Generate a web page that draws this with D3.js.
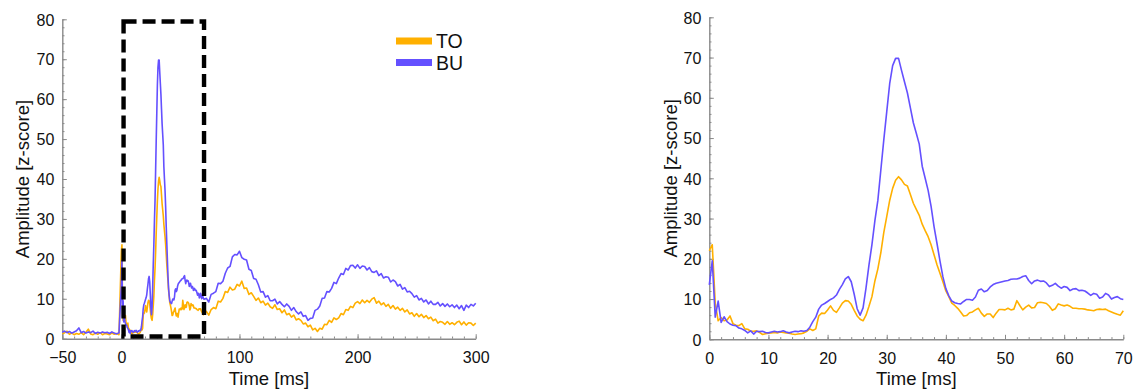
<!DOCTYPE html>
<html>
<head>
<meta charset="utf-8">
<script src="https://cdn.jsdelivr.net/npm/d3@7"></script>
<style>
  body { margin: 0; background: #fff; }
  svg text { font-family: "Liberation Sans", Arial, Helvetica, sans-serif; fill: #111; }
</style>
</head>
<body>
<svg id="chart" width="1137" height="390"></svg>
<script>
// ---- data ---------------------------------------------------------------
const seriesNames = ["TO", "BU"];
const seriesColors = ["#ffb000", "#6450ff"];

// Pre-stimulus baseline: -50 ms to -2 ms in 2 ms steps
const preStart = -50, preStep = 2;
const preTO = [1.2, 1.5, 1.9, 1.1, 1.4, 1.0, 1.3, 1.1, 1.5, 1.0, 1.6, 2.4, 1.2,
               1.0, 1.4, 1.1, 1.5, 1.0, 1.3, 1.2, 1.0, 1.4, 1.1, 1.3, 1.0];
const preBU = [1.6, 1.9, 1.5, 1.8, 1.4, 1.7, 2.0, 2.7, 1.5, 1.8, 1.4, 1.7, 1.5,
               1.9, 1.3, 1.6, 1.4, 1.7, 1.5, 1.6, 1.3, 1.7, 1.4, 1.2, 1.5];

// Early response: 0 ms to 70 ms in 0.5 ms steps
const earlyStart = 0, earlyStep = 0.5;
const earlyTO = [
  22.0, 23.5, 9.0, 4.6, 5.4, 4.6, 4.8, 5.8, 3.9, 3.5,
  3.4, 3.9, 2.6, 2.5, 2.0, 2.0, 2.1, 1.7, 1.2, 1.4,
  1.5, 1.6, 1.7, 1.6, 1.8, 1.7, 1.6, 1.5, 1.3, 1.2,
  1.3, 1.4, 1.6, 2.0, 2.6, 2.2, 2.6, 5.8, 6.5, 6.4,
  7.3, 8.3, 7.2, 6.7, 7.8, 9.0, 9.6, 9.5, 8.7, 7.2,
  5.8, 5.0, 4.6, 6.0, 8.2, 10.6, 14.5, 17.5, 21.5, 26.5,
  30.5, 34.5, 37.5, 39.5, 40.4, 39.6, 38.5, 38.1, 36.0, 33.8,
  32.3, 30.8, 28.6, 27.0, 25.5, 23.5, 21.0, 18.5, 16.4, 14.3,
  12.0, 10.6, 9.0, 8.4, 7.7, 6.8, 5.8, 5.9, 6.6, 6.8,
  7.3, 7.7, 6.5, 5.7, 6.3, 6.3, 5.4, 6.5, 7.4, 7.4,
  7.3, 7.7, 7.3, 7.5, 9.6, 8.4, 7.3, 8.0, 8.5, 7.8,
  7.9, 9.1, 9.2, 9.1, 8.9, 8.2, 7.2, 7.6, 8.8, 8.5,
  8.3, 8.5, 8.2, 7.7, 7.7, 7.6, 7.6, 7.5, 7.3, 7.2,
  7.1, 7.4, 7.5, 7.4, 7.5, 7.1, 6.8, 6.5, 6.2, 6.0,
  7.1
];
const earlyBU = [
  13.5, 19.5, 5.5, 9.5, 4.2, 5.6, 4.4, 3.8, 3.5, 3.4,
  2.8, 2.6, 2.2, 1.6, 2.1, 1.3, 2.0, 1.9, 2.0, 1.7,
  1.6, 1.8, 2.0, 1.8, 1.9, 2.1, 1.8, 1.6, 1.8, 2.0,
  1.9, 2.1, 2.0, 2.2, 3.0, 4.4, 5.5, 7.5, 8.5, 8.9,
  9.4, 9.9, 10.3, 11.0, 12.4, 13.6, 15.0, 15.6, 14.3, 11.2,
  7.6, 6.0, 7.8, 12.8, 18.5, 23.5, 29.5, 34.5, 42.0, 49.5,
  56.5, 63.5, 68.0, 69.8, 69.8, 66.8, 64.0, 61.2, 57.5, 53.8,
  51.2, 48.5, 43.0, 40.0, 37.0, 33.0, 28.0, 23.8, 19.5, 15.5,
  12.6, 10.8, 9.5, 9.1, 8.9, 8.8, 9.4, 9.9, 9.9, 9.7,
  10.5, 12.2, 12.5, 11.8, 12.1, 13.0, 13.6, 13.9, 14.1, 14.3,
  14.5, 14.6, 14.9, 15.0, 15.0, 15.2, 15.6, 15.8, 14.6, 13.8,
  14.5, 14.7, 14.4, 14.5, 14.0, 13.1, 13.4, 13.9, 13.2, 12.7,
  13.1, 12.9, 12.1, 12.5, 12.6, 12.1, 12.2, 12.0, 11.5, 10.9,
  11.4, 11.2, 10.2, 10.5, 11.4, 11.0, 10.0, 10.4, 10.6, 10.1,
  9.9
];

// Late response: 72 ms to 300 ms in 2 ms steps
const lateStart = 72, lateStep = 2;
const lateTO = [
  6.8, 5.9, 7.3, 7.8, 7.5, 9.4, 9.2, 10.1, 11.8, 11.6,
  12.9, 12.2, 12.4, 13.6, 13.2, 14.4, 12.6, 12.7, 11.1, 11.5,
  10.6, 9.6, 10.2, 9.0, 9.4, 8.4, 8.9, 8.0, 7.6, 8.5,
  7.3, 7.5, 6.5, 7.2, 6.0, 6.3, 5.4, 5.9, 4.7, 5.0,
  4.6, 3.7, 3.9, 3.0, 3.4, 2.2, 2.6, 1.8, 2.6, 2.4,
  3.6, 3.5, 4.6, 4.1, 5.2, 4.8, 5.2, 6.3, 6.0, 7.3,
  7.1, 8.1, 7.8, 8.9, 9.3, 8.8, 9.7, 9.0, 9.6, 9.1,
  9.9, 10.3, 8.9, 9.4, 8.5, 9.0, 8.1, 8.6, 7.6, 8.3,
  7.4, 7.9, 7.1, 7.6, 6.7, 7.2, 6.2, 6.5, 5.6, 6.3,
  5.5, 6.1, 5.3, 5.8, 5.0, 5.4, 4.5, 4.9, 3.9, 4.3,
  4.1, 3.6, 4.3, 3.6, 4.0, 3.5, 4.1, 4.4, 3.5, 4.2,
  3.4, 4.0, 3.9, 3.3, 3.9
];
const lateBU = [
  10.1, 9.2, 11.1, 11.4, 11.8, 13.9, 13.8, 14.4, 16.4, 17.7,
  18.1, 20.5, 21.1, 21.0, 21.9, 20.3, 19.9, 19.7, 17.4, 17.1,
  15.1, 14.9, 13.5, 11.7, 11.8, 10.4, 10.8, 9.5, 9.5, 9.9,
  8.7, 9.3, 8.6, 8.0, 8.7, 8.1, 7.1, 7.8, 6.8, 6.2,
  6.7, 5.6, 5.8, 4.6, 5.1, 5.2, 7.1, 7.4, 8.2, 10.1,
  10.2, 11.8, 11.7, 12.6, 14.1, 13.8, 15.2, 16.3, 16.1, 17.6,
  17.2, 18.3, 18.4, 17.7, 18.5, 17.6, 18.2, 18.1, 17.2, 17.8,
  16.8, 16.6, 17.0, 15.8, 16.3, 15.2, 15.5, 15.4, 14.2, 14.7,
  14.3, 13.2, 13.6, 12.4, 12.8, 11.7, 11.9, 11.3, 10.4, 10.8,
  9.7, 10.1, 9.2, 9.7, 8.7, 9.4, 8.6, 8.6, 9.1, 8.2,
  8.8, 8.1, 8.7, 8.0, 8.5, 7.8, 8.4, 7.5, 8.3, 7.1,
  8.4, 7.8, 8.6, 8.2, 8.9
];

// Axis ticks
const overviewXTicks = [-50, 0, 100, 200, 300];
const overviewXMinor = d3.range(-50, 301, 10);
const detailXTicks = [0, 10, 20, 30, 40, 50, 60, 70];
const detailXMinor = d3.range(0, 71, 2);
const yTicks = [0, 10, 20, 30, 40, 50, 60, 70, 80];
const yMinor = d3.range(0, 81, 2);
const highlightWindow = [0, 70];   // ms range zoomed in the right panel

// ---- helpers ------------------------------------------------------------
function toPoints(start, step, values) {
  return values.map((v, i) => ({ t: start + i * step, v }));
}
const earlyPts = [toPoints(earlyStart, earlyStep, earlyTO), toPoints(earlyStart, earlyStep, earlyBU)];
const fullPts = [
  toPoints(preStart, preStep, preTO).concat(earlyPts[0], toPoints(lateStart, lateStep, lateTO)),
  toPoints(preStart, preStep, preBU).concat(earlyPts[1], toPoints(lateStart, lateStep, lateBU))
];

const svg = d3.select("#chart");
const AXIS_COLOR = "#8a8a8a";

function drawPanel(cfg) {
  const x = d3.scaleLinear().domain(cfg.xDomain).range(cfg.xRange);
  const y = d3.scaleLinear().domain([0, 80]).range(cfg.yRange);
  const g = svg.append("g");

  // minor ticks
  g.append("g").attr("transform", `translate(0,${cfg.yRange[0]})`)
    .call(d3.axisBottom(x).tickValues(cfg.xMinor).tickSize(-2.2).tickSizeOuter(0).tickFormat(""))
    .call(a => a.select(".domain").remove());
  g.append("g").attr("transform", `translate(${cfg.xRange[0]},0)`)
    .call(d3.axisLeft(y).tickValues(yMinor).tickSize(-2.2).tickSizeOuter(0).tickFormat(""))
    .call(a => a.select(".domain").remove());

  // major ticks + labels
  const xa = g.append("g").attr("transform", `translate(0,${cfg.yRange[0]})`)
    .call(d3.axisBottom(x).tickValues(cfg.xTicks).tickSize(-4.5).tickSizeOuter(0).tickPadding(13)
      .tickFormat(d => d < 0 ? "\u2212" + Math.abs(d) : String(d)));
  const ya = g.append("g").attr("transform", `translate(${cfg.xRange[0]},0)`)
    .call(d3.axisLeft(y).tickValues(yTicks).tickSize(-4.5).tickSizeOuter(0).tickPadding(8));

  [xa, ya].forEach(a => {
    a.attr("font-size", null).attr("font-family", null);
    a.selectAll("text").attr("font-size", "16px").attr("fill", "#111");
  });
  g.selectAll(".tick line").attr("stroke", AXIS_COLOR).attr("stroke-width", 1);
  g.selectAll(".domain").attr("stroke", AXIS_COLOR).attr("stroke-width", 1.4);
  ya.selectAll("text").attr("dy", "0.36em");
  xa.selectAll("text").attr("dy", "0.72em");

  // series
  const line = d3.line().x(d => x(d.t)).y(d => y(d.v));
  cfg.data.forEach((pts, i) => {
    g.append("path").datum(pts)
      .attr("fill", "none")
      .attr("stroke", seriesColors[i])
      .attr("stroke-width", 1.6)
      .attr("stroke-linejoin", "round")
      .attr("d", line);
  });

  // axis titles
  g.append("text")
    .attr("x", (cfg.xRange[0] + cfg.xRange[1]) / 2)
    .attr("y", 384.5)
    .attr("text-anchor", "middle")
    .attr("font-size", "18.5px")
    .text("Time [ms]");
  g.append("text")
    .attr("transform", `translate(${cfg.yTitleX},${(cfg.yRange[0] + cfg.yRange[1]) / 2}) rotate(-90)`)
    .attr("text-anchor", "middle")
    .attr("dy", "0.36em")
    .attr("font-size", "18.5px")
    .text("Amplitude [z-score]");

  return { g, x, y };
}

// ---- overview panel -----------------------------------------------------
const left = drawPanel({
  xDomain: [-50, 300], xRange: [62.3, 475.7], yRange: [338.7, 19.3],
  xTicks: overviewXTicks, xMinor: overviewXMinor,
  data: fullPts, yTitleX: 22
});

// dashed box marking the zoomed window
const boxW = 4.4, half = boxW / 2;
left.g.append("rect")
  .attr("x", left.x(highlightWindow[0]) + half)
  .attr("y", left.y(80) + half)
  .attr("width", left.x(highlightWindow[1]) - left.x(highlightWindow[0]) - half)
  .attr("height", left.y(0) - left.y(80) - 2 * half)
  .attr("fill", "none")
  .attr("stroke", "#000")
  .attr("stroke-width", boxW)
  .attr("stroke-dasharray", "13,6");

// legend
const legend = left.g.append("g");
seriesNames.forEach((name, i) => {
  const yy = 41 + i * 21.5;
  legend.append("line")
    .attr("x1", 396).attr("x2", 432).attr("y1", yy).attr("y2", yy)
    .attr("stroke", seriesColors[i]).attr("stroke-width", 7);
  legend.append("text")
    .attr("x", 436).attr("y", yy).attr("dy", "0.36em")
    .attr("font-size", "19.5px")
    .text(name);
});

// ---- detail panel -------------------------------------------------------
drawPanel({
  xDomain: [0, 70], xRange: [709.3, 1123.3], yRange: [339.3, 17.3],
  xTicks: detailXTicks, xMinor: detailXMinor,
  data: earlyPts, yTitleX: 670
});
</script>
</body>
</html>
